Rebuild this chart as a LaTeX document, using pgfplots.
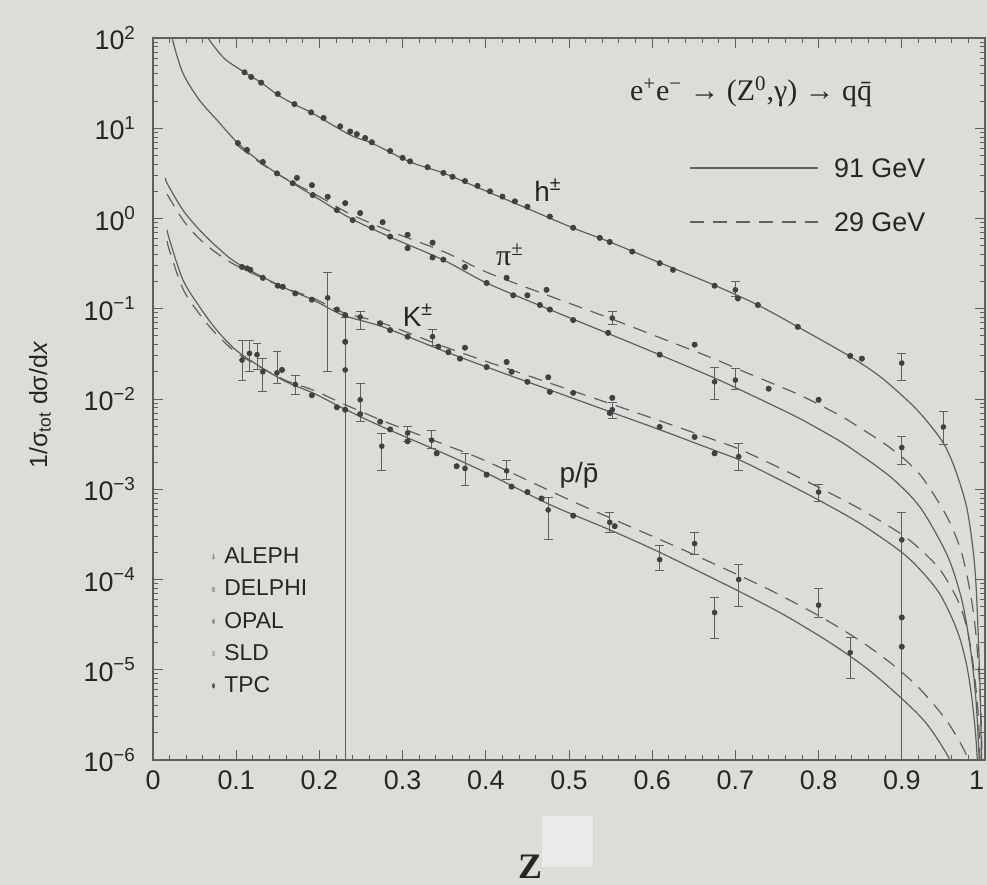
\documentclass[border=0pt]{standalone}
\usepackage{pgfplots}
\pgfplotsset{compat=1.18}
\usepackage{fontspec}
\setmainfont{Liberation Sans}
\newfontfamily\serif{Liberation Serif}
\definecolor{paper}{RGB}{221,220,216}
\definecolor{ink}{RGB}{95,95,95}
\definecolor{pts}{RGB}{65,65,65}
\definecolor{boxgray}{RGB}{234,234,232}
\begin{document}
\begin{tikzpicture}
\fill[paper] (-76.5bp,-62.5bp) rectangle (417bp,380bp);
\begin{axis}[
  at={(0,0)}, anchor=south west,
  scale only axis, width=416bp, height=361bp,
  xmin=0, xmax=1, ymin=1e-6, ymax=1e2, ymode=log,
  xtick={0,0.1,0.2,0.3,0.4,0.5,0.6,0.7,0.8,0.9,1},
  xticklabels={0,0.1,0.2,0.3,0.4,0.5,0.6,0.7,0.8,0.9,\makebox[0pt][r]{1\hspace{0.5bp}}},
  minor x tick num=4,
  ytick={1e-6,1e-5,1e-4,1e-3,1e-2,1e-1,1,10,100},
  yticklabels={10\textsuperscript{−6},10\textsuperscript{−5},10\textsuperscript{−4},10\textsuperscript{−3},10\textsuperscript{−2},10\textsuperscript{−1},10\textsuperscript{0},10\textsuperscript{1},10\textsuperscript{2}},
  minor ytick={2e-6,3e-6,4e-6,5e-6,6e-6,7e-6,8e-6,9e-6,2e-5,3e-5,4e-5,5e-5,6e-5,7e-5,8e-5,9e-5,2e-4,3e-4,4e-4,5e-4,6e-4,7e-4,8e-4,9e-4,2e-3,3e-3,4e-3,5e-3,6e-3,7e-3,8e-3,9e-3,0.02,0.03,0.04,0.05,0.06,0.07,0.08,0.09,0.2,0.3,0.4,0.5,0.6,0.7,0.8,0.9,2,3,4,5,6,7,8,9,20,30,40,50,60,70,80,90},
  tick align=inside, major tick length=5bp, minor tick length=2.5bp,
  axis line style={ink, line width=0.6bp},
  tick style={ink, line width=0.45bp},
  tick label style={font=\fontsize{13.5}{14}\selectfont, text=black!85},
  xticklabel style={yshift=-2bp},
  yticklabel style={xshift=-5bp},
  /pgf/number format/assume math mode=true,
  legend style={at={(0.064,0.305)}, anchor=north west, draw=none, fill=none,
    font=\fontsize{11.5}{12}\selectfont, row sep=2.6bp, column sep=3bp, text=black!85},
  legend cell align=left,
  legend image post style={xscale=0.4},
]
% experiment legend
\addlegendimage{only marks, mark=triangle*, mark size=1.3bp, black!45}
\addlegendentry{ALEPH}
\addlegendimage{only marks, mark=square*, mark size=1.1bp, black!35}
\addlegendentry{DELPHI}
\addlegendimage{only marks, mark=*, mark size=1.1bp, black!45}
\addlegendentry{OPAL}
\addlegendimage{only marks, mark=square*, mark size=1.1bp, black!30}
\addlegendentry{SLD}
\addlegendimage{only marks, mark=*, mark size=1.1bp, black!70}
\addlegendentry{TPC}

% ---- 91 GeV (solid) curves ----
% h
\addplot[ink, line width=0.6bp, smooth, tension=0.5, no marks] coordinates {
(0.060,126) (0.066,100) (0.080,67.6) (0.090,55) (0.110,41.7) (0.131,31.6) (0.150,23.4) (0.171,18.2) (0.191,14.8) (0.237,8.41) (0.263,6.85) (0.309,4.23) (0.349,3.19) (0.400,2.02) (0.450,1.29) (0.505,0.785) (0.549,0.55) (0.609,0.324) (0.675,0.182) (0.727,0.110) (0.775,0.063) (0.838,0.0295) (0.875,0.0174) (0.913,0.00851) (0.935,0.00501) (0.952,0.00302) (0.965,0.00158) (0.978,6.31e-4) (0.986,2.0e-4) (0.990,6.31e-5) (0.994,6.31e-6) (0.9965,5e-7)};
% pi
\addplot[ink, line width=0.6bp, smooth, tension=0.5, no marks] coordinates {
(0.018,200) (0.023,100) (0.036,40.7) (0.056,20.4) (0.077,12.3) (0.102,6.85) (0.129,4.23) (0.156,2.88) (0.197,1.69) (0.237,1.01) (0.285,0.624) (0.349,0.347) (0.401,0.193) (0.477,0.0977) (0.546,0.0537) (0.609,0.0309) (0.673,0.0174) (0.706,0.0126) (0.745,0.00851) (0.778,0.00603) (0.817,0.0038) (0.838,0.00288) (0.886,0.00138) (0.922,6.31e-4) (0.954,1.91e-4) (0.970,7.08e-5) (0.978,3.16e-5) (0.985,1.12e-5) (0.990,3.55e-6) (0.995,4e-7)};
% K
\addplot[ink, line width=0.6bp, smooth, tension=0.5, no marks] coordinates {
(0.015,2.82) (0.017,2.45) (0.036,1.24) (0.056,0.746) (0.077,0.483) (0.102,0.316) (0.156,0.174) (0.192,0.126) (0.228,0.0851) (0.276,0.0631) (0.347,0.0347) (0.401,0.0226) (0.477,0.0126) (0.549,0.00724) (0.609,0.00457) (0.678,0.00263) (0.706,0.00209) (0.750,0.00132) (0.800,7.59e-4) (0.850,4.17e-4) (0.900,2.0e-4) (0.925,1.2e-4) (0.945,7.08e-5) (0.960,3.8e-5) (0.970,2.19e-5) (0.978,1.12e-5) (0.984,5.01e-6) (0.989,1.78e-6) (0.993,4.5e-7)};
% p
\addplot[ink, line width=0.6bp, smooth, tension=0.5, no marks] coordinates {
(0.017,0.741) (0.020,0.575) (0.036,0.209) (0.056,0.105) (0.077,0.0575) (0.104,0.0324) (0.156,0.0162) (0.192,0.0117) (0.228,0.00794) (0.276,0.0049) (0.349,0.00251) (0.401,0.00151) (0.477,6.76e-4) (0.549,3.55e-4) (0.609,2.0e-4) (0.702,7.59e-5) (0.760,3.98e-5) (0.817,1.91e-5) (0.860,1.0e-5) (0.900,4.79e-6) (0.930,2.51e-6) (0.958,1e-6) (0.975,4e-7)};

% ---- 29 GeV (dashed) curves ----
% pi
\addplot[ink, line width=0.6bp, smooth, tension=0.5, no marks, dash pattern=on 7bp off 4.5bp] coordinates {
(0.102,6.40) (0.129,4.13) (0.156,2.88) (0.197,1.81) (0.237,1.12) (0.285,0.724) (0.349,0.431) (0.401,0.254) (0.477,0.138) (0.546,0.0804) (0.609,0.0479) (0.673,0.0282) (0.706,0.0209) (0.745,0.0148) (0.778,0.011) (0.817,0.00724) (0.838,0.00562) (0.886,0.00288) (0.922,0.00145) (0.954,5.01e-4) (0.970,2.24e-4) (0.978,1.15e-4) (0.985,5.01e-5) (0.990,2.0e-5) (0.995,3.55e-6) (0.998,1.6e-7)};
% K
\addplot[ink, line width=0.6bp, smooth, tension=0.5, no marks, dash pattern=on 7bp off 4.5bp] coordinates {
(0.017,1.86) (0.036,0.964) (0.056,0.593) (0.077,0.411) (0.102,0.295) (0.156,0.174) (0.192,0.132) (0.228,0.0912) (0.276,0.0692) (0.347,0.0389) (0.401,0.026) (0.477,0.0150) (0.549,0.00891) (0.609,0.00575) (0.678,0.00343) (0.706,0.00275) (0.750,0.00178) (0.800,0.00105) (0.850,6.03e-4) (0.900,3.16e-4) (0.925,2.04e-4) (0.945,1.32e-4) (0.960,7.94e-5) (0.970,5.13e-5) (0.978,2.95e-5) (0.984,1.51e-5) (0.989,6.31e-6) (0.993,2e-6) (0.997,1e-7)};
% p
\addplot[ink, line width=0.6bp, smooth, tension=0.5, no marks, dash pattern=on 7bp off 4.5bp] coordinates {
(0.017,0.562) (0.020,0.437) (0.036,0.166) (0.056,0.0871) (0.077,0.0513) (0.104,0.0309) (0.156,0.0166) (0.192,0.0126) (0.228,0.00891) (0.276,0.00575) (0.349,0.00316) (0.401,0.00204) (0.501,7.59e-4) (0.565,4.17e-4) (0.620,2.51e-4) (0.673,1.51e-4) (0.738,7.94e-5) (0.800,3.98e-5) (0.850,2.09e-5) (0.886,1.2e-5) (0.915,7.08e-6) (0.938,4.17e-6) (0.958,2.4e-6) (0.978,1.12e-6) (0.990,5e-7)};

% ---- data points without error bars ----
\addplot[only marks, mark=*, mark size=1.3bp, pts] coordinates {
(0.110,41.7) (0.118,37) (0.130,32) (0.150,24) (0.170,18.5) (0.190,15) (0.205,13) (0.225,10.5) (0.237,9.2) (0.245,8.6) (0.255,7.8) (0.263,7.0) (0.285,5.6) (0.300,4.7) (0.309,4.3) (0.330,3.7) (0.349,3.2) (0.360,2.9) (0.375,2.6) (0.390,2.3) (0.405,2.0) (0.420,1.75) (0.435,1.55) (0.450,1.35) (0.477,1.05) (0.505,0.79) (0.537,0.61) (0.549,0.55) (0.576,0.43) (0.609,0.32) (0.625,0.27) (0.675,0.18) (0.703,0.13) (0.727,0.11) (0.775,0.063) (0.838,0.030) (0.852,0.028)
(0.102,6.85) (0.113,5.75) (0.132,4.23) (0.149,3.16) (0.173,2.82) (0.168,2.46) (0.191,2.34) (0.192,1.82) (0.210,1.74) (0.221,1.24) (0.231,1.48) (0.240,0.96) (0.249,1.15) (0.263,0.79) (0.276,0.91) (0.285,0.63) (0.306,0.66) (0.306,0.47) (0.336,0.54) (0.336,0.37) (0.349,0.35) (0.375,0.29) (0.425,0.22) (0.401,0.193) (0.433,0.141) (0.450,0.141) (0.473,0.162) (0.465,0.11) (0.477,0.098) (0.505,0.075) (0.547,0.054) (0.609,0.031) (0.651,0.040) (0.740,0.013) (0.800,0.0098)
(0.107,0.29) (0.113,0.28) (0.117,0.27) (0.132,0.22) (0.150,0.18) (0.156,0.175) (0.171,0.148) (0.191,0.126) (0.221,0.098) (0.231,0.085) (0.273,0.069) (0.285,0.058) (0.306,0.049) (0.343,0.038) (0.355,0.033) (0.375,0.037) (0.369,0.028) (0.401,0.0226) (0.425,0.0257) (0.431,0.020) (0.450,0.0155) (0.475,0.0174) (0.477,0.012) (0.505,0.0117) (0.552,0.0103) (0.549,0.0070) (0.609,0.0049) (0.651,0.0038) (0.675,0.0025)
(0.155,0.021) (0.191,0.011) (0.221,0.0081) (0.231,0.0076) (0.231,0.043) (0.249,0.0068) (0.273,0.0056) (0.285,0.0046) (0.306,0.0034) (0.341,0.0025) (0.365,0.0018) (0.401,0.00145) (0.431,0.00107) (0.450,0.00093) (0.467,0.00079) (0.505,0.00051) (0.555,0.00039) (0.900,0.000038) (0.900,0.000018)};

% ---- data points with error bars ----
\addplot[only marks, mark=*, mark size=1.2bp, pts,
  error bars/.cd, y dir=both, y explicit,
  error bar style={line width=0.45bp, ink},
  error mark options={rotate=90, mark size=2.2bp, line width=0.45bp, ink}] coordinates {
(0.700,0.162) += (0,0.04) -= (0,0.024)
(0.900,0.025) += (0,0.007) -= (0,0.009)
(0.950,0.0049) += (0,0.0023) -= (0,0.0018)
(0.552,0.079) += (0,0.015) -= (0,0.012)
(0.675,0.0155) += (0,0.007) -= (0,0.0057)
(0.700,0.0162) += (0,0.0057) -= (0,0.0036)
(0.900,0.0029) += (0,0.0009) -= (0,0.0010)
(0.210,0.132) += (0,0.119) -= (0,0.112)
(0.249,0.081) += (0,0.012) -= (0,0.022)
(0.336,0.049) += (0,0.010) -= (0,0.010)
(0.552,0.0076) += (0,0.0015) -= (0,0.0015)
(0.704,0.0023) += (0,0.0009) -= (0,0.0007)
(0.800,0.00093) += (0,0.0002) -= (0,0.0002)
(0.900,0.000275) += (0,0.00028) -= (0,0.0002745)
(0.107,0.027) += (0,0.018) -= (0,0.011)
(0.116,0.032) += (0,0.013) -= (0,0.012)
(0.125,0.031) += (0,0.010) -= (0,0.010)
(0.132,0.020) += (0,0.008) -= (0,0.008)
(0.149,0.0195) += (0,0.014) -= (0,0.0045)
(0.171,0.0145) += (0,0.0037) -= (0,0.0033)
(0.231,0.021) += (0,0.060) -= (0,0.0209995)
(0.249,0.0098) += (0,0.005) -= (0,0.0042)
(0.275,0.0030) += (0,0.0012) -= (0,0.0014)
(0.306,0.0042) += (0,0.0008) -= (0,0.0008)
(0.335,0.0035) += (0,0.0010) -= (0,0.0007)
(0.375,0.0017) += (0,0.0008) -= (0,0.0006)
(0.425,0.0016) += (0,0.0005) -= (0,0.0003)
(0.475,0.00059) += (0,0.00022) -= (0,0.00031)
(0.549,0.00043) += (0,0.00012) -= (0,0.0001)
(0.609,0.000166) += (0,0.00007) -= (0,0.00004)
(0.651,0.00025) += (0,0.00008) -= (0,0.00006)
(0.675,0.000043) += (0,0.000020) -= (0,0.000021)
(0.704,0.0001) += (0,0.000045) -= (0,0.00005)
(0.800,0.000052) += (0,0.000027) -= (0,0.000014)
(0.838,0.0000155) += (0,0.0000075) -= (0,0.0000074)
};
\end{axis}
% annotations (positions in bp from the axis origin)
\node[font=\serif\fontsize{15}{16}\selectfont, text=black!85] at (299bp,334bp)
  {e\textsuperscript{+}e\textsuperscript{−} → (Z\textsuperscript{0},γ) → q\={q}};
\draw[ink, line width=0.6bp] (268.5bp,296bp) -- (332.5bp,296bp);
\node[anchor=west, font=\fontsize{13.5}{14}\selectfont, text=black!85] at (337bp,296bp) {91 GeV};
\draw[ink, line width=0.6bp, dash pattern=on 7bp off 4.5bp] (268.5bp,269bp) -- (332.5bp,269bp);
\node[anchor=west, font=\fontsize{13.5}{14}\selectfont, text=black!85] at (337bp,269bp) {29 GeV};
\node[font=\fontsize{14}{15}\selectfont, text=black!85] at (197.5bp,285bp) {h\textsuperscript{±}};
\node[font=\serif\fontsize{15}{16}\selectfont, text=black!85] at (178.5bp,252.5bp) {π\textsuperscript{±}};
\node[font=\fontsize{14}{15}\selectfont, text=black!85] at (132.5bp,222.5bp) {K\textsuperscript{±}};
\node[font=\fontsize{14}{15}\selectfont, text=black!85] at (213bp,142.5bp) {p/\={p}};
\node[rotate=90, font=\fontsize{12.5}{13}\selectfont, text=black!85] at (-56.5bp,177.5bp)
  {1/σ\textsubscript{tot} dσ/d\textit{x}};
\fill[boxgray, draw=black!15, line width=0.4bp] (194bp,-53.5bp) rectangle (220bp,-27.5bp);
\node[inner sep=0pt, font=\serif\bfseries\fontsize{18}{20}\selectfont, text=black!85] at (188.5bp,-53.5bp) {Z};
\pgfresetboundingbox
\path[use as bounding box] (-76.5bp,-62.5bp) rectangle (417bp,380bp);
\end{tikzpicture}
\end{document}
